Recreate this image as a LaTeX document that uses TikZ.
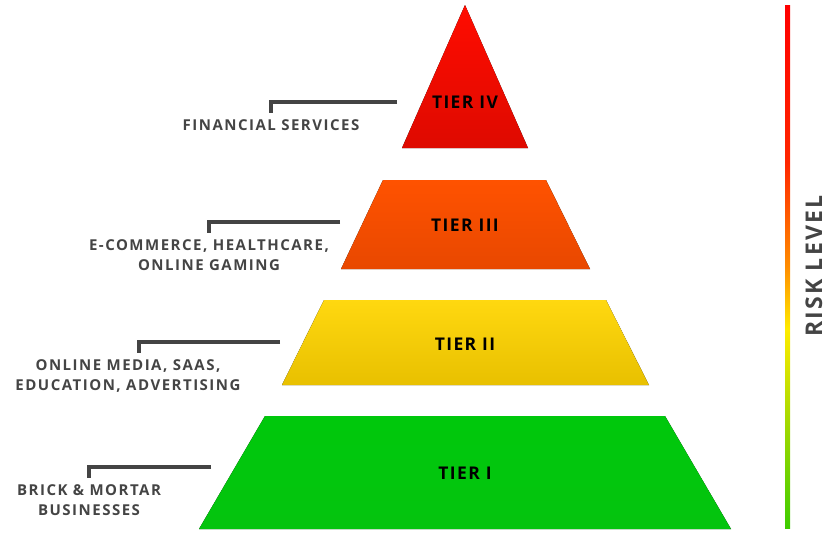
\documentclass[tikz,border=0pt]{standalone}
\usepackage{fontspec}
\setmainfont{Open Sans}
\newfontfamily\tierfont{Open Sans}[LetterSpace=8]
\newfontfamily\lblfont{Open Sans}[LetterSpace=10]
\usetikzlibrary{positioning}

\definecolor{leadgray}{HTML}{444444}
\definecolor{redtop}{HTML}{FF0C00}
\definecolor{redbot}{HTML}{DE0A00}
\definecolor{orangetop}{HTML}{FF5200}
\definecolor{orangebot}{HTML}{E84800}
\definecolor{yellowtop}{HTML}{FFD810}
\definecolor{yellowbot}{HTML}{E8C000}
\definecolor{greentop}{HTML}{00C80C}
\definecolor{greenbot}{HTML}{04C40E}

\pgfdeclareverticalshading{riskbar}{100bp}{%
  color(0bp)=(green!60!lime!80!black); color(25bp)=(green!60!lime!80!black);
  color(35bp)=(yellow!75!green!85!black); color(44bp)=(yellow!85!orange);
  color(50bp)=(orange!90!yellow); color(60bp)=(red!70!orange);
  color(75bp)=(red); color(100bp)=(red)}

\begin{document}
\begin{tikzpicture}[
  x=1pt, y=-1pt,
  tier/.style={font=\tierfont\fontsize{17.5}{20}\bfseries, text=black, inner sep=0pt},
  lbl/.style={font=\lblfont\fontsize{15}{19.5}\bfseries, text=leadgray, align=center, inner sep=0pt, anchor=north},
  leader/.style={draw=leadgray, line width=4pt}
]
\useasboundingbox (0,0) rectangle (828,554);

% pyramid
\fill[top color=redtop, bottom color=redbot] (465,5) -- (528,148) -- (402,148) -- cycle;
\fill[top color=orangetop, bottom color=orangebot] (383,180) -- (546,180) -- (590,269) -- (341,269) -- cycle;
\fill[top color=yellowtop, bottom color=yellowbot] (324,300) -- (606,300) -- (649,385) -- (282,385) -- cycle;
\fill[top color=greentop, bottom color=greenbot] (265,416) -- (665,416) -- (731,529) -- (199,529) -- cycle;

\node[tier] (t4) at (465,102) {TIER IV};
\node[tier] (t3) at (465,225) {TIER III};
\node[tier] (t2) at (465,344) {TIER II};
\node[tier] (t1) at (465,473) {TIER I};

% leaders
\coordinate (e4) at (397,102);  \coordinate (s4) at (271,113);
\coordinate (e3) at (340,222);  \coordinate (s3) at (209,233);
\coordinate (e2) at (280,342);  \coordinate (s2) at (139,353);
\coordinate (e1) at (211,467);  \coordinate (s1) at (89,478);
\draw[leader] (e4) -| (s4);
\draw[leader] (e3) -| (s3);
\draw[leader] (e2) -| (s2);
\draw[leader] (e1) -| (s1);

\node[lbl, below=6.5pt of s4] (fin) {FINANCIAL SERVICES};
\node[lbl, below=6.5pt of s3] (ecom) {E-COMMERCE, HEALTHCARE,\\ONLINE GAMING};
\node[lbl, below=6.5pt of s2, xshift=-11pt] (media) {ONLINE MEDIA, SAAS,\\EDUCATION, ADVERTISING};
\node[lbl, below=6.5pt of s1] (brick) {BRICK \& MORTAR\\BUSINESSES};

% risk scale
\shade[shading=riskbar] (785,5) rectangle (790,528);
\node[font=\lblfont\fontsize{23}{25}\bfseries, text=leadgray, rotate=90, inner sep=0pt] (risk) at (814,266) {RISK LEVEL};
\end{tikzpicture}
\end{document}
